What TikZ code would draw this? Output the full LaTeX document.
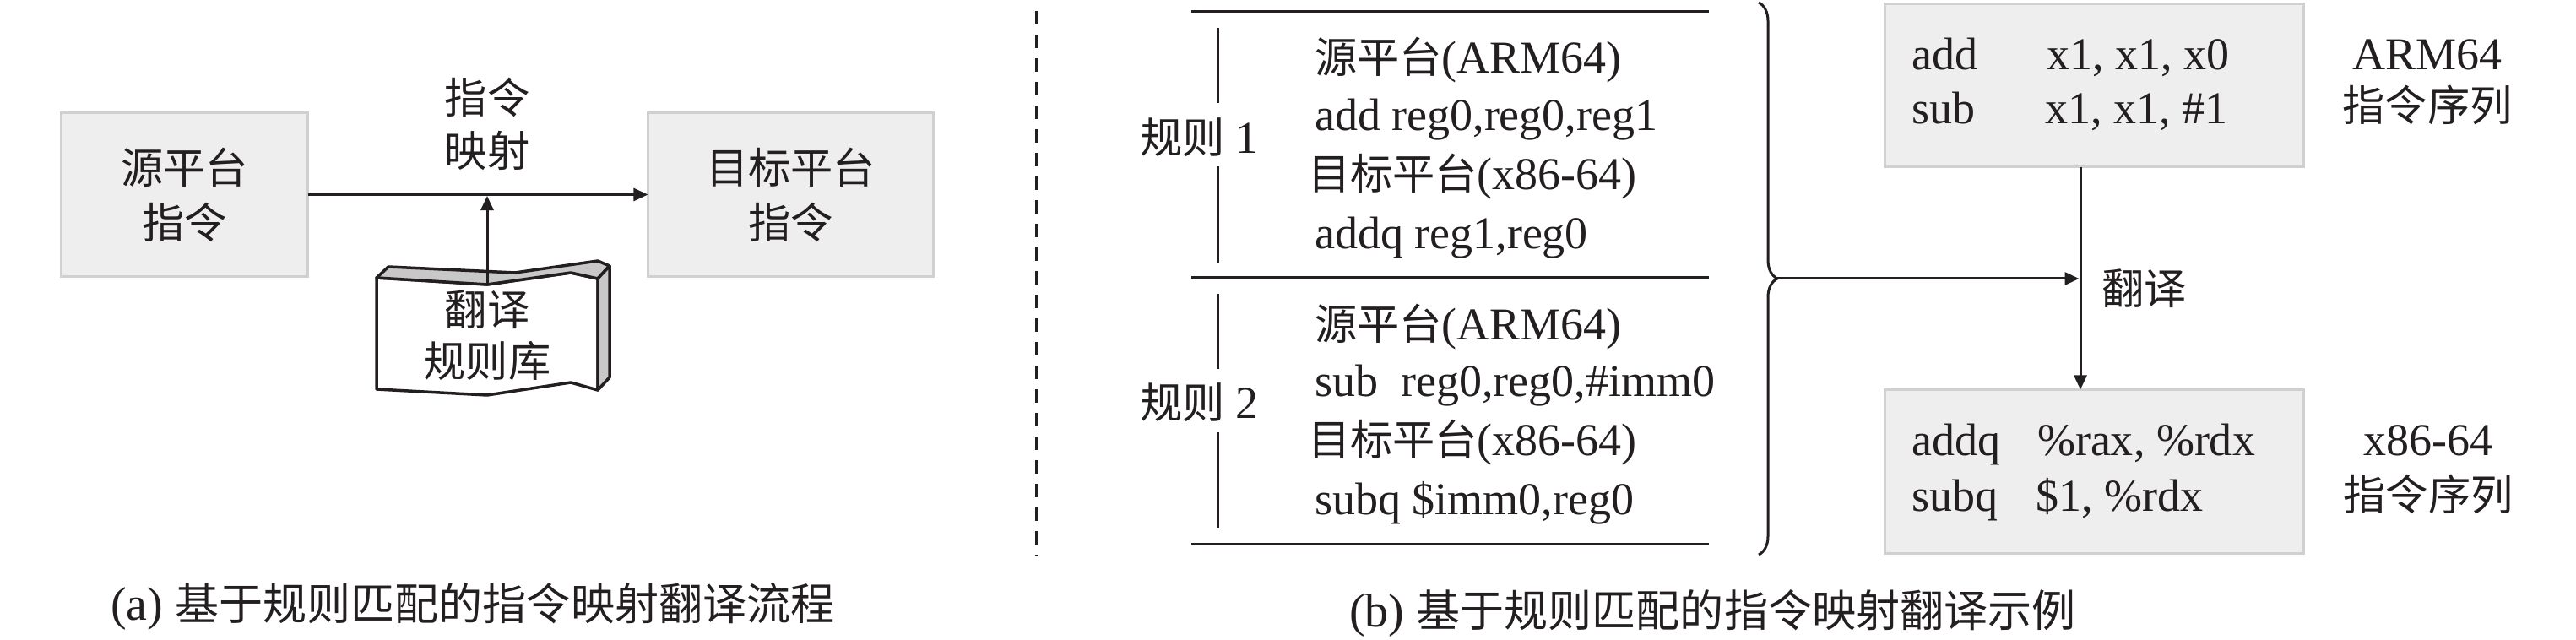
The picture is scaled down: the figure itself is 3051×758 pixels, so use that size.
\documentclass[tikz,border=0pt]{standalone}
\usepackage{fontspec}
\setmainfont{Liberation Serif}
\newfontfamily\cjk[Scale=0.93]{Noto Sans CJK SC}
\usetikzlibrary{arrows.meta,decorations.pathreplacing}
\newcommand{\zhs}[1]{{\cjk #1}}
\definecolor{boxfill}{HTML}{EEEEEE}
\definecolor{boxline}{HTML}{D0D0D0}
\definecolor{ink}{HTML}{231F20}
\definecolor{bookside}{HTML}{C8C8C8}
\begin{document}
\begin{tikzpicture}[x=0.01cm,y=-0.01cm,
  every node/.style={inner sep=0pt, outer sep=0pt, text=ink},
  fs/.style={font=\fontsize{15.36pt}{18.5pt}\selectfont},
  capfs/.style={font=\fontsize{15.93pt}{19pt}\selectfont},
  graybox/.style={draw=boxline, fill=boxfill, line width=0.03cm, inner sep=0pt},
  conn/.style={draw=ink, line width=0.03cm, -{Triangle[length=0.17cm,width=0.15cm]}},
  ruleline/.style={draw=ink, line width=0.03cm},
  bookline/.style={draw=ink, line width=0.035cm, line join=round},
]
\useasboundingbox (0,0) rectangle (3051,758);

% ---------------- (a) ----------------
\node[graybox, fs, align=center, minimum width=2.92cm, minimum height=1.94cm] (src) at (218.5,230.5) {\zhs{源平台}\\\zhs{指令}};
\node[graybox, fs, align=center, minimum width=3.38cm, minimum height=1.94cm] (tgt) at (936.5,230.5) {\zhs{目标平台}\\\zhs{指令}};
\draw[conn] (src.east) -- (tgt.west);
\node[align=center, font=\fontsize{15.36pt}{17.9pt}\selectfont] (maplbl) at (577,146.5) {\zhs{指令}\\\zhs{映射}};

% rule library (book shape)
\filldraw[bookline, fill=white] (446,329) -- (577,337) -- (676,323) -- (708,330) -- (708,462) -- (676,453) -- (577,468) -- (446,461) -- cycle;
\filldraw[bookline, fill=bookside] (446,329) -- (460,316) -- (610,323) -- (708,309) -- (722,315) -- (708,330) -- (676,323) -- (577,337) -- cycle;
\filldraw[bookline, fill=bookside] (708,330) -- (722,315) -- (722,447) -- (708,462) -- cycle;
\node[align=center, font=\fontsize{15.36pt}{17.4pt}\selectfont] (lib) at (577,397.5) {\zhs{翻译}\\\zhs{规则库}};
\coordinate (libtop) at (577,337);
\draw[conn] (libtop) -- ([yshift=-0.015cm]libtop |- src.east);

\node[capfs, anchor=base west] (capa) at (131,734) {(a) \zhs{基于规则匹配的指令映射翻译流程}};

% ---------------- separator ----------------
\draw[draw=ink, line width=0.03cm, dash pattern=on 0.16cm off 0.12cm] (1227,13) -- (1227,658);

% ---------------- (b) rules table ----------------
\draw[ruleline] (1411,14) -- (2024,14);
\draw[ruleline] (1411,329) -- (2024,329);
\draw[ruleline] (1411,644) -- (2024,644);
\draw[ruleline] (1442,33) -- (1442,122);
\draw[ruleline] (1442,197) -- (1442,311);
\draw[ruleline] (1442,348) -- (1442,437);
\draw[ruleline] (1442,512) -- (1442,625);

\node[fs, anchor=base west] (r1) at (1350,182) {\zhs{规则} 1};
\node[fs, anchor=base west] (r2) at (1350,495) {\zhs{规则} 2};

\node[fs, anchor=base west] (r1a) at (1557,87) {\zhs{源平台}(ARM64)};
\node[fs, anchor=base west] (r1b) at (1557,155) {add reg0,reg0,reg1};
\node[fs, anchor=base west] (r1c) at (1549,225) {\zhs{目标平台}(x86-64)};
\node[fs, anchor=base west] (r1d) at (1557,295) {addq reg1,reg0};

\node[fs, anchor=base west] (r2a) at (1557,403) {\zhs{源平台}(ARM64)};
\node[fs, anchor=base west] (r2b) at (1557,470) {sub\ \ reg0,reg0,\#imm0};
\node[fs, anchor=base west] (r2c) at (1549,540) {\zhs{目标平台}(x86-64)};
\node[fs, anchor=base west] (r2d) at (1557,610) {subq \$imm0,reg0};

% brace
\draw[ruleline, decorate, decoration={brace, amplitude=0.22cm}] (2083,3) -- (2083,657);
\coordinate (btip) at (2105,330);

% ---------------- (b) instruction boxes ----------------
\node[graybox, minimum width=4.96cm, minimum height=1.93cm] (armbox) at (2480.5,101) {};
\node[graybox, minimum width=4.96cm, minimum height=1.94cm] (x86box) at (2480.5,558.5) {};

\node[fs, anchor=base west] (arm1) at (2264,83) {add};
\node[fs, anchor=base west] (armop1) at (2424,83) {x1, x1, x0};
\node[fs, anchor=base west] (arm2) at (2264,147) {sub};
\node[fs, anchor=base west] (armop2) at (2422,147) {x1, x1, \#1};

\node[fs, anchor=base west] (x861) at (2264,540) {addq};
\node[fs, anchor=base west] (x86op1) at (2413,540) {\%rax, \%rdx};
\node[fs, anchor=base west] (x862) at (2264,605) {subq};
\node[fs, anchor=base west] (x86op2) at (2411,605) {\$1, \%rdx};

\coordinate (vx) at (2464,0);
\draw[conn] (armbox.south -| vx) -- (x86box.north -| vx);
\draw[conn] (btip) -- ([xshift=-0.015cm]btip -| vx);
\node[fs, anchor=west] (trans) at (2489,342) {\zhs{翻译}};

\node[fs, anchor=base] (armlbl) at (2875,83) {ARM64};
\node[fs, anchor=base] (armlbl2) at (2875,144) {\zhs{指令序列}};
\node[fs, anchor=base] (x86lbl) at (2876,540) {x86-64};
\node[fs, anchor=base] (x86lbl2) at (2876,604) {\zhs{指令序列}};

\node[capfs, anchor=base west] (capb) at (1598,742) {(b) \zhs{基于规则匹配的指令映射翻译示例}};
\end{tikzpicture}
\end{document}
